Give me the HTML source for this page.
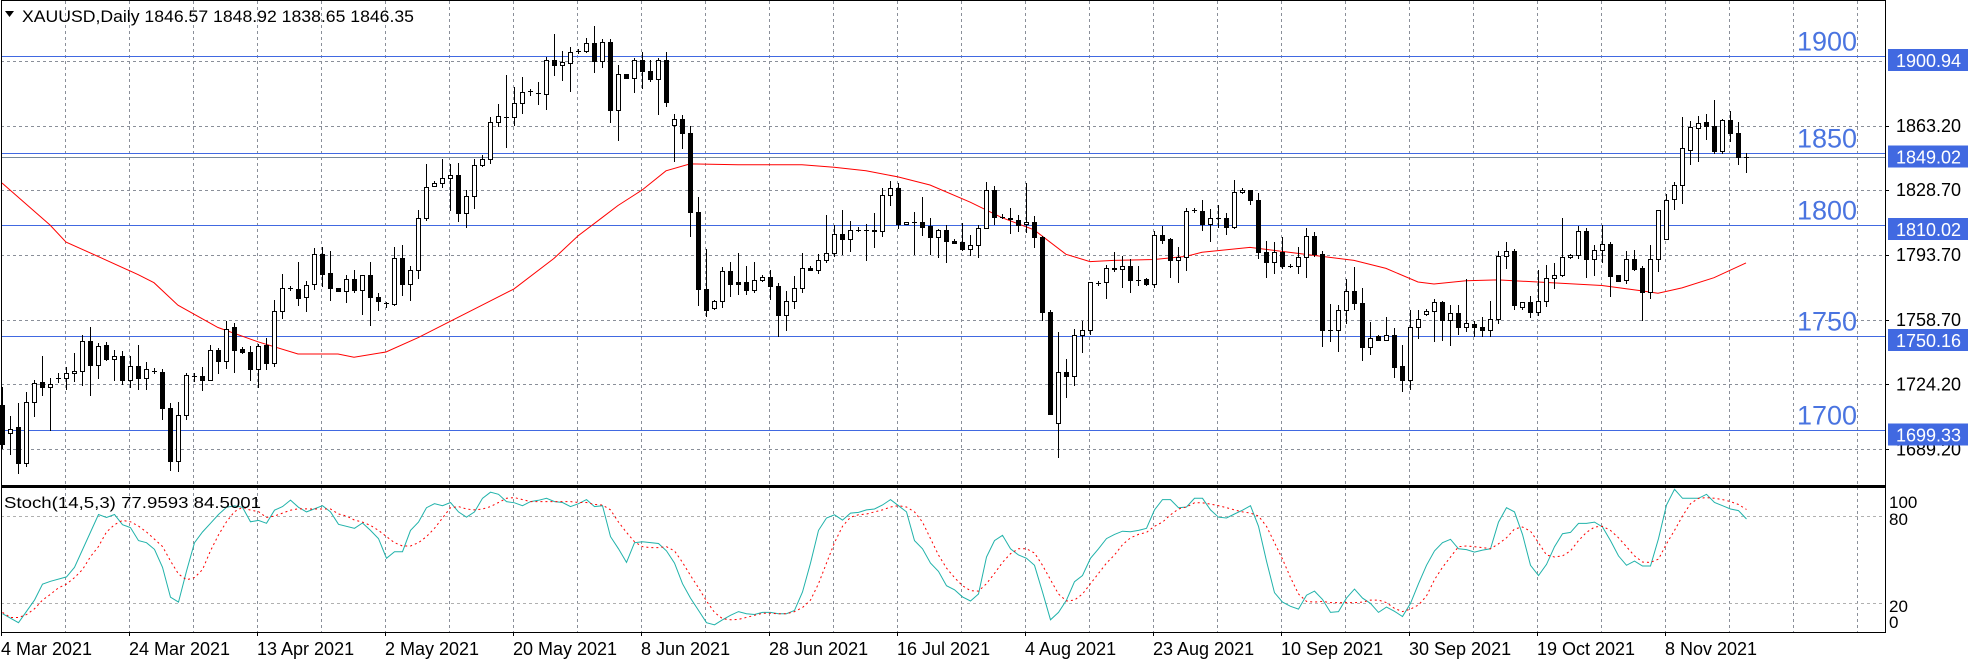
<!DOCTYPE html>
<html><head><meta charset="utf-8"><title>XAUUSD Daily</title>
<style>
html,body{margin:0;padding:0;background:#fff;}
svg{display:block;font-family:"Liberation Sans",sans-serif;}
</style></head>
<body>
<svg id="chart" width="1968" height="663" viewBox="0 0 1968 663" xmlns="http://www.w3.org/2000/svg" shape-rendering="crispEdges">
<rect x="0" y="0" width="1968" height="663" fill="#fff"/>
<g id="grid"></g>
<g id="levels"></g>
<g id="ma"></g>
<g id="candles"></g>
<g id="stoch"></g>
<g id="axes"></g>
</svg>
<script>
// ---- data (OHLC per daily bar) ----
const opens=[1713.1,1698.2,1701.1,1682.0,1714.7,1725.6,1722.6,1727.4,1727.4,1730.2,1731.5,1747.5,1734.4,1745.4,1737.7,1739.4,1726.3,1734.0,1727.4,1731.5,1730.7,1711.6,1682.9,1707.7,1728.9,1728.5,1726.7,1742.7,1736.6,1754.8,1743.2,1741.6,1732.4,1745.4,1735.5,1763.5,1775.8,1775.4,1771.2,1778.2,1794.2,1784.4,1775.8,1774.5,1781.1,1775.2,1782.8,1771.4,1768.1,1767.5,1792.0,1778.4,1785.5,1813.9,1831.0,1832.8,1835.4,1837.0,1816.6,1825.8,1842.4,1845.7,1865.4,1868.3,1868.3,1875.7,1881.9,1881.0,1880.3,1898.8,1896.1,1897.2,1903.8,1903.8,1908.2,1898.3,1908.8,1872.0,1891.3,1889.1,1898.8,1892.8,1888.5,1898.8,1863.9,1867.0,1859.5,1817.2,1775.6,1765.1,1768.8,1785.0,1779.1,1779.1,1775.2,1780.6,1782.2,1777.4,1761.4,1768.8,1775.8,1787.0,1785.5,1791.4,1795.1,1805.2,1802.5,1807.4,1807.4,1807.4,1806.9,1826.2,1829.9,1810.7,1811.8,1811.8,1809.6,1803.7,1807.4,1801.5,1800.8,1797.1,1799.0,1808.5,1828.8,1814.4,1813.9,1812.9,1810.4,1811.8,1803.7,1763.1,1703.3,1730.7,1728.9,1750.8,1753.7,1778.9,1779.3,1787.0,1786.1,1788.1,1780.6,1781.1,1778.2,1804.7,1802.3,1790.9,1792.5,1817.9,1817.7,1810.7,1813.9,1813.9,1809.1,1827.5,1828.6,1823.2,1795.3,1789.8,1795.3,1788.1,1788.1,1792.5,1803.9,1794.2,1753.7,1753.7,1764.0,1774.5,1767.9,1744.3,1750.4,1748.2,1750.8,1733.9,1726.7,1754.8,1761.8,1763.5,1768.4,1758.9,1762.4,1754.8,1756.5,1754.8,1753.5,1759.6,1793.1,1796.0,1765.7,1768.4,1763.1,1768.8,1781.7,1783.3,1792.5,1793.6,1806.9,1791.6,1796.4,1799.5,1782.8,1780.4,1791.6,1786.6,1773.8,1791.6,1802.3,1823.8,1831.5,1850.5,1862.2,1865.4,1863.3,1849.7,1866.5,1859.3,1846.57];
const highs=[1723.0,1707.0,1714.2,1720.2,1726.7,1739.4,1727.4,1730.2,1733.5,1741.2,1750.8,1754.8,1746.4,1747.1,1742.7,1742.1,1739.4,1745.4,1736.2,1732.9,1732.2,1714.2,1714.9,1730.2,1730.2,1733.3,1745.4,1743.8,1758.5,1757.4,1744.3,1744.7,1746.0,1749.1,1769.5,1783.7,1777.1,1789.8,1780.0,1797.5,1797.9,1796.0,1775.8,1783.3,1785.5,1782.8,1789.8,1773.2,1768.6,1797.9,1799.0,1787.7,1817.9,1842.9,1833.7,1845.3,1842.9,1843.5,1828.6,1845.7,1847.7,1868.1,1875.3,1890.6,1884.1,1889.6,1883.4,1887.1,1900.5,1913.0,1903.8,1906.0,1904.9,1910.8,1917.0,1910.4,1909.9,1896.1,1891.3,1899.9,1903.4,1899.0,1899.9,1903.4,1869.8,1869.2,1863.3,1824.9,1797.1,1769.5,1787.2,1790.3,1794.7,1787.7,1789.8,1782.8,1785.5,1778.9,1774.5,1782.4,1794.7,1787.7,1794.2,1815.3,1810.2,1818.3,1812.4,1808.7,1810.7,1816.6,1829.7,1833.7,1832.6,1811.8,1817.2,1824.9,1813.5,1808.0,1810.2,1802.6,1811.1,1804.7,1810.2,1833.2,1831.0,1815.7,1819.4,1815.5,1832.6,1814.6,1804.1,1764.2,1752.6,1737.7,1754.1,1758.1,1779.5,1780.0,1788.7,1795.3,1793.1,1791.6,1788.1,1781.7,1806.9,1809.6,1803.0,1797.9,1819.0,1819.0,1823.2,1818.8,1820.5,1816.6,1834.1,1829.7,1828.6,1827.1,1801.5,1800.8,1803.7,1789.0,1797.9,1808.5,1806.3,1796.0,1767.5,1766.8,1781.1,1787.2,1776.3,1757.6,1750.8,1760.7,1754.3,1745.4,1764.2,1764.0,1764.6,1770.1,1769.0,1766.8,1766.8,1781.1,1758.1,1760.7,1769.0,1796.0,1800.8,1796.9,1768.4,1771.7,1785.5,1788.3,1789.4,1813.5,1794.2,1809.6,1808.5,1799.0,1810.0,1800.8,1783.3,1796.0,1796.4,1787.7,1799.0,1818.3,1826.7,1833.0,1868.3,1866.1,1868.7,1870.0,1877.5,1867.2,1871.4,1865.4,1848.92];
const lows=[1690.1,1686.8,1676.3,1680.3,1707.4,1718.6,1699.5,1725.2,1721.5,1725.9,1723.7,1718.6,1727.8,1737.2,1726.7,1724.1,1723.0,1721.5,1721.5,1730.2,1705.3,1678.1,1677.7,1705.5,1725.9,1721.3,1726.7,1730.2,1732.9,1730.7,1741.0,1726.7,1723.0,1732.2,1734.0,1759.8,1774.9,1766.8,1763.5,1775.6,1777.1,1769.7,1774.3,1768.6,1774.1,1762.2,1755.9,1764.2,1765.7,1766.8,1772.3,1769.7,1781.5,1812.6,1831.0,1830.2,1817.9,1812.2,1808.9,1819.4,1842.0,1843.5,1863.3,1851.9,1863.7,1870.5,1880.1,1875.3,1872.5,1890.6,1888.0,1882.3,1902.7,1903.4,1892.2,1895.0,1865.4,1855.6,1889.1,1881.4,1883.6,1887.4,1869.8,1874.2,1844.6,1851.6,1804.1,1766.8,1760.9,1764.6,1765.7,1771.9,1772.7,1772.7,1773.8,1780.0,1770.1,1750.4,1753.2,1765.3,1774.1,1785.5,1784.1,1789.8,1793.1,1794.2,1796.0,1806.7,1791.4,1798.0,1804.1,1820.5,1808.3,1810.7,1794.2,1804.7,1794.2,1792.5,1789.8,1800.4,1796.4,1793.8,1792.5,1808.5,1810.7,1813.5,1805.8,1806.9,1806.3,1798.0,1758.7,1708.3,1685.1,1717.1,1723.7,1741.6,1751.5,1777.8,1770.6,1785.0,1776.7,1774.1,1777.8,1777.8,1776.7,1800.4,1782.2,1779.5,1785.5,1816.8,1807.4,1801.5,1808.9,1805.2,1808.5,1827.1,1821.4,1792.0,1782.2,1783.9,1787.0,1787.2,1783.9,1782.2,1793.1,1744.9,1747.5,1742.3,1757.0,1764.6,1737.2,1740.5,1748.2,1747.8,1728.1,1720.8,1721.9,1749.3,1761.4,1747.5,1748.2,1745.4,1751.5,1753.0,1750.4,1750.4,1750.4,1757.4,1786.6,1764.6,1764.6,1760.3,1761.4,1766.2,1776.3,1782.6,1792.0,1792.0,1782.2,1783.3,1789.8,1771.9,1780.0,1778.9,1785.5,1758.7,1770.6,1785.0,1802.3,1818.8,1822.1,1843.1,1844.6,1856.2,1849.0,1849.0,1855.1,1842.9,1838.65];
const closes=[1692.3,1700.0,1682.0,1714.7,1725.0,1723.0,1724.1,1727.4,1730.2,1731.5,1747.5,1734.4,1744.7,1737.7,1739.4,1726.3,1734.0,1727.4,1732.2,1731.5,1711.4,1682.9,1707.7,1729.4,1728.9,1726.7,1742.7,1736.6,1754.1,1742.7,1741.6,1732.4,1744.7,1735.5,1763.5,1776.3,1775.8,1770.8,1777.8,1794.2,1783.7,1776.3,1774.3,1781.1,1775.2,1782.8,1771.4,1769.0,1768.1,1792.0,1778.4,1785.7,1813.9,1830.6,1832.8,1835.4,1837.0,1816.6,1825.8,1842.4,1845.7,1865.4,1868.7,1868.3,1875.7,1881.4,1881.9,1881.0,1898.8,1896.1,1897.7,1903.4,1903.8,1908.2,1898.3,1908.8,1872.0,1891.3,1889.1,1898.8,1892.8,1888.5,1898.8,1876.4,1866.8,1859.5,1817.2,1775.6,1764.2,1768.8,1785.0,1778.4,1778.4,1775.2,1780.6,1782.2,1777.4,1761.4,1768.8,1775.8,1787.0,1785.5,1791.4,1795.1,1805.2,1802.5,1807.4,1807.4,1807.4,1806.9,1826.2,1829.9,1810.7,1811.8,1811.8,1809.1,1803.7,1807.4,1801.5,1800.4,1797.1,1799.0,1808.5,1828.8,1814.4,1814.4,1813.1,1810.2,1811.8,1803.7,1763.1,1708.3,1730.7,1728.9,1750.8,1753.7,1779.5,1778.9,1787.0,1786.1,1788.1,1780.4,1780.6,1778.2,1804.7,1801.9,1790.9,1792.5,1817.7,1817.9,1810.7,1813.9,1813.9,1809.1,1827.5,1828.8,1823.2,1795.3,1789.8,1795.3,1787.7,1788.1,1792.5,1803.9,1794.2,1753.2,1753.7,1764.0,1774.5,1767.9,1744.3,1749.3,1748.2,1750.8,1733.7,1726.7,1754.8,1759.6,1763.5,1768.4,1758.9,1762.4,1754.8,1757.0,1754.8,1753.5,1759.6,1793.1,1796.0,1766.8,1768.4,1763.1,1768.8,1781.7,1783.3,1792.5,1793.6,1806.9,1791.6,1796.4,1799.5,1782.6,1780.0,1791.6,1786.1,1773.8,1791.6,1817.9,1823.6,1831.5,1851.2,1862.8,1865.0,1863.3,1849.7,1866.5,1859.5,1846.6,1846.35];
// moving average points (bar index, value)
const maBars=[0,6,8,12,17,19,22,27,32,37,42,44,48,52,56,60,64,69,72,75,77,80,83,86,92,100,104,108,112,116,121,125,129,133,136,139,144,148,150,156,162,169,173,177,179,183,187,192,196,200,205,207,210,214,218];
const maVals=[1832.6,1810.0,1800.8,1793.1,1783.3,1778.9,1766.8,1754.8,1747.1,1740.5,1740.5,1738.8,1741.6,1749.3,1758.1,1766.8,1775.6,1792.0,1804.1,1813.9,1820.5,1828.8,1839.2,1842.9,1842.4,1842.4,1841.1,1839.2,1835.9,1831.5,1822.3,1813.9,1807.4,1794.2,1790.3,1790.9,1791.4,1793.1,1795.3,1797.9,1794.7,1790.9,1786.6,1779.3,1778.2,1780.0,1780.4,1779.3,1778.4,1777.4,1774.5,1773.2,1776.1,1781.6,1789.6];
// stochastic %K main line (bar index, value)
const kBars=[0,2,4,5,6,8,9,12,13,14,15,16,17,18,19,20,21,22,23,24,25,26,27,28,29,30,31,32,33,34,35,36,37,38,40,41,42,44,45,46,47,48,49,50,51,52,53,54,55,56,57,58,59,60,61,62,63,64,65,66,67,68,69,70,71,72,73,74,75,76,77,78,79,80,82,83,84,85,86,87,88,89,90,91,92,93,94,95,96,97,98,99,100,101,102,103,104,105,106,107,108,109,110,111,112,113,114,115,116,117,118,119,120,121,122,123,124,125,126,127,128,129,130,131,132,133,134,135,136,137,138,139,140,141,142,143,144,145,146,147,148,149,150,151,152,153,154,155,156,157,158,159,160,161,162,163,164,165,166,167,168,169,170,171,172,173,174,175,176,177,178,179,180,181,182,183,184,185,186,187,188,189,190,191,192,193,194,195,196,197,198,199,200,201,202,203,204,205,206,207,208,209,210,211,212,213,214,215,216,217,218];
const kVals=[12.6,6.4,22,33,35,38,44.6,81,79,81,74,72,63,61.6,57,44.6,24,20.6,42,61.6,69,75,81,86,87,86,76,77,75,84,86.5,91,86,82.8,87.1,82.8,74.3,71.5,75.2,70.1,64.4,50.8,55.4,55.4,70.1,75.8,85.7,88.5,87.1,89.3,82.8,79.2,82.8,92.2,96.4,95.0,89.9,89.1,87.1,89.9,90.8,92.2,89.9,89.3,86.5,88.5,91.3,86.5,87.1,65.8,57.4,48.0,61.6,62.2,61.0,55.9,47.5,33.3,23.4,14.9,6.4,5.0,8.4,11.5,14.1,12.6,12.1,13.5,13.5,12.6,12.6,14.9,27.6,47.5,70.1,78.6,80.8,77.2,82.0,82.5,84.2,84.8,87.6,91.3,87.1,82.8,63.0,57.4,47.5,41.8,31.9,29.1,24.2,21.4,26.2,51.7,63.0,66.7,57.4,53.1,50.8,46.0,27.6,8.4,13.5,22.0,34.7,39.0,50.8,57.4,64.4,67.3,69.5,69.2,70.1,71.5,84.2,91.3,91.3,85.7,86.2,92.2,92.2,84.2,79.2,78.6,81.4,84.0,87.1,72.9,48.9,27.1,20.6,17.7,15.8,25.4,28.2,22.5,13.5,14.1,23.4,29.6,23.4,19.7,13.5,17.2,14.3,10.7,19.7,33.3,46.0,55.9,61.6,63.9,57.4,56.8,55.1,56.5,57.4,75.8,85.7,82.8,67.3,46.0,39.0,46.6,58.8,67.8,68.7,74.9,74.9,75.8,72.4,63.0,52.5,46.0,48.9,45.5,45.5,64.4,87.6,98.4,92.2,92.2,92.2,95.0,89.3,87.1,84.8,83.7,77.96];
// stochastic %D signal line (bar index, value)
const dBars=[0,1,2,3,4,5,6,7,8,9,10,11,12,13,14,15,16,17,18,19,20,21,22,23,24,25,26,27,28,29,30,31,32,33,34,35,36,37,39,41,42,43,44,45,46,47,48,49,50,51,52,53,54,55,56,57,58,59,60,61,62,63,64,65,66,67,68,69,70,71,72,73,74,75,76,77,78,79,80,81,82,83,84,85,86,87,88,89,90,91,92,93,94,95,96,97,98,99,100,101,102,103,104,105,106,107,108,109,110,111,112,113,114,115,116,117,118,119,120,121,122,123,124,125,126,127,128,129,130,131,132,133,134,135,136,137,138,139,140,141,142,143,144,145,146,147,148,149,150,151,152,153,154,155,156,157,158,159,160,161,162,163,164,165,166,167,168,169,170,171,172,173,174,175,176,177,178,179,180,181,182,183,184,185,186,187,188,189,190,191,192,193,194,195,196,197,198,199,200,201,202,203,204,205,206,207,208,209,210,211,212,213,214,215,216,217,218];
const dVals=[13.5,10,10,12,16,22,26,30.5,33,37.5,43,52,59,69,74,77,76,73,69,64,59,49,40,36,37.5,43,56,67,76,83,86,84,83,79,80,82,84,85,84.8,84.8,81.4,80,77.2,75.8,73.5,70.1,65.8,61.6,59.3,59.3,61.6,65.8,71.5,78.6,85.7,86.5,84.8,84.2,84.8,86.5,89.3,92.2,92.7,91.3,89.9,89.9,89.9,89.9,89.9,89.9,89.3,89.3,87.9,87.6,84.2,75.8,68.7,62.2,58.8,58.2,58.2,58.8,55.9,48.0,39.0,30.5,21.4,13.5,9.2,8.4,8.7,10.1,11.5,12.9,12.9,12.6,12.6,14.1,16.9,22.0,33.3,47.5,61.6,72.9,79.2,80.8,81.4,82.8,84.2,86.2,87.1,86.2,82.8,75.8,64.4,53.1,44.1,37.5,31.9,28.5,28.2,33.3,40.4,48.0,54.0,57.4,57.4,54.5,46.0,36.1,26.2,21.4,22.0,26.2,33.3,40.4,47.5,53.1,60.2,65.0,67.3,68.7,72.9,75.8,80.8,84.8,86.2,89.1,89.1,88.2,87.1,85.7,84.2,82.8,82.0,80,72.9,61.6,50.3,37.5,26.2,21.1,20.6,21.1,20.3,20.3,20.3,20.3,20.6,22.0,22.0,20.3,16.3,14.1,15.8,18.6,24.8,36.1,44.6,51.7,58.8,59.3,58.8,58.2,57.4,60.8,65.0,71.0,72.4,69.5,61.6,53.1,51.7,52.5,55.9,63.0,68.7,72.4,72.9,70.1,65.0,58.8,52.5,48.3,48.0,50.3,60.8,70.1,80,88.5,92.2,92.7,92.2,91.3,89.9,87.9,84.5];
const levelVals=[1900.94,1849.02,1810.02,1750.16,1699.33];
const levelText=["1900","1850","1800","1750","1700"];
const gridPrices=[1898.2,1863.2,1828.7,1793.7,1758.7,1724.2,1689.2];
const axisLabels=["1863.20","1828.70","1793.70","1758.70","1724.20","1689.20"];
const axisLabelPrices=[1863.2,1828.7,1793.7,1758.7,1724.2,1689.2];
const dateLabels=["4 Mar 2021","24 Mar 2021","13 Apr 2021","2 May 2021","20 May 2021","8 Jun 2021","28 Jun 2021","16 Jul 2021","4 Aug 2021","23 Aug 2021","10 Sep 2021","30 Sep 2021","19 Oct 2021","8 Nov 2021"];
const stochLevels=[20,80];
const bidPrice=1846.35;

// ---- geometry ----
const NS="http://www.w3.org/2000/svg";
const PL=1, PR=1885, MT=1, MB=485, ST=487, SB=632;
const yP=p=>449.3-(p-1689.2)*1.857;
const xB=i=>2+8*i;
const yS=v=>632-v*1.45;
function mk(tag,attrs,parent){const e=document.createElementNS(NS,tag);for(const k in attrs)e.setAttribute(k,attrs[k]);parent.appendChild(e);return e;}
const G=id=>document.getElementById(id);

// grid
const grid=G('grid');
for(let x=65.5;x<PR;x+=64){
  const l=mk('line',{x1:x,y1:MT,x2:x,y2:SB,stroke:'#8a8f99','stroke-dasharray':'3,3','stroke-width':1},grid);
  
  
}
gridPrices.forEach(p=>{
  const y=Math.round(yP(p))+0.5;
  const l=mk('line',{x1:PL,y1:y,x2:PR,y2:y,stroke:'#8a8f99','stroke-dasharray':'3,3'},grid);
  
  
});
stochLevels.forEach(v=>{
  const y=Math.round(yS(v))+0.5;
  const l=mk('line',{x1:PL,y1:y,x2:PR,y2:y,stroke:'#b0b0b0','stroke-dasharray':'3,3'},grid);
  
  
});

// levels
const lv=G('levels');
levelVals.forEach((p,i)=>{
  const y=Math.round(yP(p))+0.5;
  const l=mk('line',{x1:PL,y1:y,x2:PR,y2:y,stroke:'#4169e1','stroke-width':1},lv);
  
  
  const t=mk('text',{x:1797,y:y-6,'font-size':27,fill:'#4a74e0'},lv);
  t.textContent=levelText[i];
  
  
});
{
  const y=Math.round(yP(bidPrice))+0.5;
  const l=mk('line',{x1:PL,y1:y,x2:PR,y2:y,stroke:'#778899'},lv);
  
  
}

// moving average
{
  const pts=maBars.map((b,i)=>xB(b)+','+yP(maVals[i]).toFixed(1)).join(' ');
  const pl=mk('polyline',{points:pts,fill:'none',stroke:'#ff0000','stroke-width':1,'shape-rendering':'auto'},G('ma'));
  
  
}

// candles
const cg=G('candles');
for(let i=0;i<opens.length;i++){
  const x=xB(i), o=opens[i], c=closes[i], h=highs[i], l=lows[i];
  const g=mk('g',{},cg);
  
  
  const yh=Math.round(yP(h)), yl=Math.round(yP(l));
  const yt=Math.round(yP(Math.max(o,c))), yb=Math.round(yP(Math.min(o,c)));
  mk('line',{x1:x+0.5,y1:yh,x2:x+0.5,y2:yl+1,stroke:'#000'},g);
  if(yb-yt<1){
    mk('line',{x1:x-2,y1:yt+0.5,x2:x+3,y2:yt+0.5,stroke:'#000'},g);
  } else if(c>=o){
    mk('rect',{x:x-1.5,y:yt+0.5,width:4,height:yb-yt,fill:'#fff',stroke:'#000'},g);
  } else {
    mk('rect',{x:x-2,y:yt,width:5,height:yb-yt+1,fill:'#000'},g);
  }
}

// stochastic
const sg=G('stoch');
{
  const pk=kBars.map((b,i)=>xB(b)+0.5+','+yS(kVals[i]).toFixed(1)).join(' ');
  const k=mk('polyline',{points:pk,fill:'none',stroke:'#20b2aa','stroke-width':1,'shape-rendering':'auto'},sg);
  
  
  const pd=dBars.map((b,i)=>xB(b)+0.5+','+yS(dVals[i]).toFixed(1)).join(' ');
  const d=mk('polyline',{points:pd,fill:'none',stroke:'#ff0000','stroke-width':1,'stroke-dasharray':'2,3','shape-rendering':'auto'},sg);
  
  
  const lab=mk('text',{x:4,y:508,'font-size':16,fill:'#000',textLength:257,lengthAdjust:'spacingAndGlyphs'},sg);
  lab.textContent='Stoch(14,5,3) 77.9593 84.5001';
  
  
}

// axes / borders
const ax=G('axes');
{
  const r1=mk('rect',{x:PL+0.5,y:MT-0.5,width:PR-PL,height:MB-MT+1,fill:'none',stroke:'#000'},ax);
  
  
  const r2=mk('rect',{x:PL+0.5,y:ST+0.5,width:PR-PL,height:SB-ST,fill:'none',stroke:'#000'},ax);
  
  
  mk('line',{x1:PL,y1:ST-0.5,x2:PR+1,y2:ST-0.5,stroke:'#000'},ax);
}
axisLabels.forEach((s,i)=>{
  const y=yP(axisLabelPrices[i]);
  mk('line',{x1:PR,y1:Math.round(y)+0.5,x2:PR+4,y2:Math.round(y)+0.5,stroke:'#000'},ax);
  const t=mk('text',{x:1896,y:y+6,'font-size':18,fill:'#000'},ax);
  t.textContent=s;
  
  
});
levelVals.forEach(p=>{
  const y=yP(p);
  const r=mk('rect',{x:1888,y:y-7,width:80,height:22,fill:'#4169e1'},ax);
  
  
  const t=mk('text',{x:1896,y:y+11,'font-size':18,fill:'#fff'},ax);
  t.textContent=p.toFixed(2);
  
  
});
[[100,'100'],[80,'80'],[20,'20'],[0,'0']].forEach(([v,s])=>{
  const y=v===100?502:v===80?519:v===20?606:622;
  const t=mk('text',{x:1889,y:y+6,'font-size':17,fill:'#000'},ax);
  t.textContent=s;
  
  
});
dateLabels.forEach((s,i)=>{
  const x=1+128*i;
  mk('line',{x1:x+0.5,y1:SB,x2:x+0.5,y2:SB+4,stroke:'#000'},ax);
  const t=mk('text',{x:x,y:655,'font-size':18,fill:'#000'},ax);
  t.textContent=s;
  
  
});
{
  const tri=mk('path',{d:'M5,11 L14,11 L9.5,17 Z',fill:'#000','shape-rendering':'auto'},ax);
  
  
  const t=mk('text',{x:22,y:22,'font-size':17,fill:'#000',textLength:392,lengthAdjust:'spacingAndGlyphs'},ax);
  t.textContent='XAUUSD,Daily  1846.57 1848.92 1838.65 1846.35';
  
  
}
</script>
</body></html>
